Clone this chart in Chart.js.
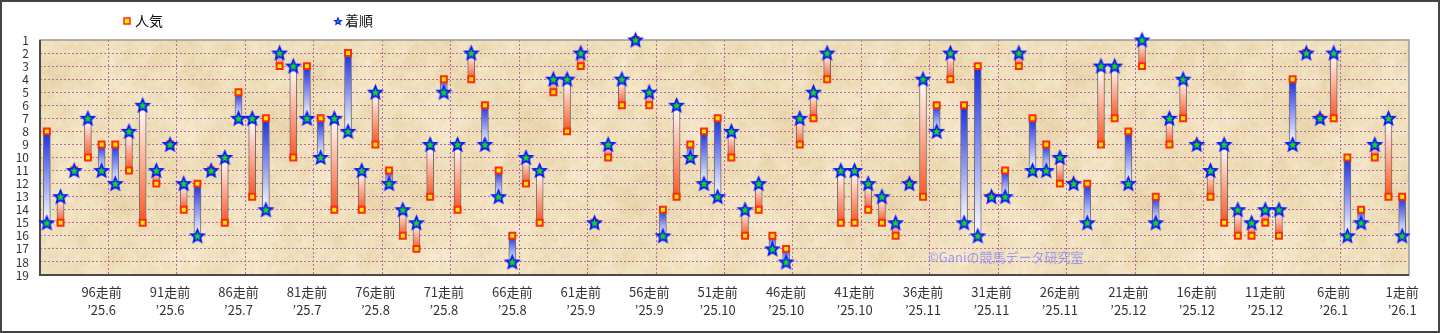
<!DOCTYPE html>
<html lang="ja">
<head>
<meta charset="utf-8">
<title>人気・着順 推移</title>
<script src="https://cdn.jsdelivr.net/npm/chart.js@4.4.1/dist/chart.umd.min.js"></script>
<style>
  html, body { margin: 0; padding: 0; background: #fff; overflow: hidden; }
  #wrap { position: relative; width: 1440px; height: 333px; }
</style>
</head>
<body>
<div id="wrap"><canvas id="chart"></canvas></div>
<script>
// 100走前 … 1走前
const raceNo = Array.from({ length: 100 }, (_, i) => 100 - i);

// 人気 (popularity rank) per race, oldest first
const ninki = [
  8, 15, 11, 10, 9, 9, 11, 15, 12, 9,
  14, 12, 11, 15, 5, 13, 7, 3, 10, 3,
  7, 14, 2, 14, 9, 11, 16, 17, 13, 4,
  14, 4, 6, 11, 16, 12, 15, 5, 8, 3,
  15, 10, 6, 1, 6, 14, 13, 9, 8, 7,
  10, 16, 14, 16, 17, 9, 7, 4, 15, 15,
  14, 15, 16, 12, 13, 6, 4, 6, 3, 13,
  11, 3, 7, 9, 12, 12, 12, 9, 7, 8,
  3, 13, 9, 7, 9, 13, 15, 16, 16, 15,
  16, 4, 2, 7, 7, 10, 14, 10, 13, 13
];

// 着順 (finishing position) per race
const chakujun = [
  15, 13, 11, 7, 11, 12, 8, 6, 11, 9,
  12, 16, 11, 10, 7, 7, 14, 2, 3, 7,
  10, 7, 8, 11, 5, 12, 14, 15, 9, 5,
  9, 2, 9, 13, 18, 10, 11, 4, 4, 2,
  15, 9, 4, 1, 5, 16, 6, 10, 12, 13,
  8, 14, 12, 17, 18, 7, 5, 2, 11, 11,
  12, 13, 15, 12, 4, 8, 2, 15, 16, 13,
  13, 2, 11, 11, 10, 12, 15, 3, 3, 12,
  1, 15, 7, 4, 9, 11, 9, 14, 15, 14,
  14, 9, 2, 7, 2, 16, 15, 9, 7, 16
];

// labelled ticks on the x axis
const tickRaces = [96, 91, 86, 81, 76, 71, 66, 61, 56, 51, 46, 41, 36, 31, 26, 21, 16, 11, 6, 1];
const tickDates = [
  '’25.6', '’25.6', '’25.7', '’25.7', '’25.8', '’25.8', '’25.8', '’25.9', '’25.9', '’25.10',
  '’25.10', '’25.10', '’25.11', '’25.11', '’25.11', '’25.12', '’25.12', '’25.12', '’26.1', '’26.1'
];

const FONT = '"Noto Sans CJK JP", "Noto Sans", sans-serif';
const GRID = '#b86c9c';

function hash(x, y, seed) {
  let n = (x * 374761393 + y * 668265263 + seed * 1442695041) | 0;
  n = Math.imul(n ^ (n >>> 13), 1274126177);
  return ((n ^ (n >>> 16)) >>> 0) / 4294967295;
}

function valueNoise(x, y, cell, seed, size) {
  const n = size / cell;
  const gx = x / cell, gy = y / cell;
  const x0 = Math.floor(gx), y0 = Math.floor(gy);
  const fx = gx - x0, fy = gy - y0;
  const sx = fx * fx * (3 - 2 * fx), sy = fy * fy * (3 - 2 * fy);
  const h = (i, j) => hash(((i % n) + n) % n, ((j % n) + n) % n, seed);
  const a = h(x0, y0), b = h(x0 + 1, y0), c = h(x0, y0 + 1), d = h(x0 + 1, y0 + 1);
  return a + (b - a) * sx + (c - a) * sy + (a - b - c + d) * sx * sy;
}

// tileable parchment texture for the plot background
function makeParchment() {
  const size = 256;
  const c = document.createElement('canvas');
  c.width = c.height = size;
  const g = c.getContext('2d');
  const img = g.createImageData(size, size);
  const light = [246, 234, 206], dark = [228, 206, 160];
  for (let y = 0; y < size; y++) {
    for (let x = 0; x < size; x++) {
      let v = 0.3 * valueNoise(x, y, 64, 1, size) +
              0.3 * valueNoise(x, y, 16, 2, size) +
              0.25 * valueNoise(x, y, 4, 3, size) +
              0.15 * valueNoise(x, y, 1, 4, size);
      v = Math.min(1, Math.max(0, (v - 0.5) * 1.3 + 0.45));
      const k = (y * size + x) * 4;
      for (let ch = 0; ch < 3; ch++) img.data[k + ch] = light[ch] + (dark[ch] - light[ch]) * v;
      img.data[k + 3] = 255;
    }
  }
  g.putImageData(img, 0, 0);
  return c;
}

function makeStar(r, lw) {
  const size = Math.ceil(2 * r + 2 * lw + 2);
  const c = document.createElement('canvas');
  c.width = c.height = size;
  const g = c.getContext('2d');
  const cx = size / 2, cy = size / 2 + 0.5;
  g.beginPath();
  for (let k = 0; k < 10; k++) {
    const rad = k % 2 ? r * 0.45 : r;
    const a = -Math.PI / 2 + k * Math.PI / 5;
    g.lineTo(cx + rad * Math.cos(a), cy + rad * Math.sin(a));
  }
  g.closePath();
  g.fillStyle = '#12dc1a';
  g.fill();
  g.lineWidth = lw;
  g.lineJoin = 'miter';
  g.strokeStyle = '#0a18ff';
  g.stroke();
  return c;
}

const starMark = makeStar(6.6, 1.8);
const starLegend = makeStar(3.5, 1.2);
const parchment = makeParchment();

// bar between 人気 and 着順: coloured at the 人気 end, white at the 着順 end
function barFill(ctx) {
  const chart = ctx.chart;
  const y = chart.scales && chart.scales.y;
  if (ctx.type !== 'data' || !y) return 'transparent';
  const i = ctx.dataIndex;
  const p0 = y.getPixelForValue(ninki[i]);
  const p1 = y.getPixelForValue(chakujun[i]);
  if (!isFinite(p0) || !isFinite(p1) || p0 === p1) return 'transparent';
  const g = chart.ctx.createLinearGradient(0, p0, 0, p1);
  g.addColorStop(0, ninki[i] < chakujun[i] ? '#1a2de4' : '#ff5522');
  g.addColorStop(1, '#ffffff');
  return g;
}

const decor = {
  id: 'decor',
  beforeDraw(chart) {
    const { ctx, chartArea: a } = chart;
    ctx.save();
    ctx.fillStyle = ctx.createPattern(parchment, 'repeat');
    ctx.fillRect(a.left, a.top, a.right - a.left, a.bottom - a.top);
    ctx.restore();
  },
  beforeDatasetsDraw(chart) {
    const { ctx, chartArea: a } = chart;
    ctx.save();
    // plot frame
    ctx.strokeStyle = '#9a9a9a';
    ctx.lineWidth = 1.5;
    ctx.strokeRect(a.left, a.top, a.right - a.left, a.bottom - a.top);
    ctx.strokeStyle = '#4a4a4a';
    ctx.lineWidth = 2;
    ctx.beginPath();
    ctx.moveTo(a.left, a.top);
    ctx.lineTo(a.left, a.bottom);
    ctx.lineTo(a.right, a.bottom);
    ctx.stroke();
    // watermark
    ctx.font = '13px ' + FONT;
    ctx.fillStyle = 'rgba(130, 130, 255, 0.75)';
    ctx.textBaseline = 'middle';
    ctx.fillText('©Ganiの競馬データ研究室', 928, 257);
    ctx.restore();
  },
  afterDraw(chart) {
    const { ctx, width, height } = chart;
    ctx.save();
    // legend
    ctx.font = '14px ' + FONT;
    ctx.textBaseline = 'middle';
    ctx.fillStyle = '#ffee00';
    ctx.fillRect(124, 18, 6, 6);
    ctx.strokeStyle = '#ff2a10';
    ctx.lineWidth = 1.5;
    ctx.strokeRect(124, 18, 6, 6);
    ctx.fillStyle = '#111';
    ctx.fillText('人気', 135, 21);
    ctx.drawImage(starLegend, 338 - starLegend.width / 2, 21 - starLegend.height / 2);
    ctx.fillText('着順', 345, 21);
    // outer frame
    ctx.strokeStyle = '#444';
    ctx.lineWidth = 2;
    ctx.strokeRect(1, 1, width - 2, height - 2);
    ctx.restore();
  }
};

new Chart(document.getElementById('chart'), {
  type: 'bar',
  data: {
    labels: raceNo.map((n) => n + '走前'),
    datasets: [
      {
        type: 'line',
        label: '着順',
        data: chakujun,
        showLine: false,
        pointStyle: starMark,
        pointRadius: 7,
        clip: false,
        order: 0,
      },
      {
        type: 'line',
        label: '人気',
        data: ninki,
        showLine: false,
        pointStyle: 'rect',
        pointRadius: 4.2,
        pointBackgroundColor: '#ffee00',
        pointBorderColor: '#ff2a10',
        pointBorderWidth: 2,
        clip: false,
        order: 1,
      },
      {
        label: '人気-着順',
        data: ninki.map((v, i) => [v, chakujun[i]]),
        backgroundColor: barFill,
        borderColor: '#6f6f6f',
        borderWidth: { left: 1, right: 1, top: 0, bottom: 0 },
        borderSkipped: false,
        barThickness: 7,
        order: 2,
      },
    ],
  },
  options: {
    responsive: true,
    maintainAspectRatio: false,
    animation: false,
    events: [],
    layout: { padding: { top: 40, right: 31, bottom: 0, left: 0 } },
    plugins: {
      legend: { display: false },
      tooltip: { enabled: false },
    },
    scales: {
      x: {
        afterFit: (s) => { s.height = 58; },
        grid: {
          offset: true,
          drawTicks: false,
          color: (c) => (c.index % 5 === 0 && c.index > 0 && c.index < 100 ? GRID : 'transparent'),
        },
        border: { display: false, dash: [2, 2] },
        ticks: {
          autoSkip: false,
          maxRotation: 0,
          padding: 8,
          color: '#333',
          font: { size: 13, family: FONT, lineHeight: 1.4 },
          callback: (v, i) => {
            const k = tickRaces.indexOf(raceNo[i]);
            return k < 0 ? '' : [tickRaces[k] + '走前', tickDates[k]];
          },
        },
      },
      y: {
        reverse: true,
        min: 1,
        max: 19,
        afterFit: (s) => { s.width = 40; },
        grid: {
          drawTicks: false,
          color: (c) => (c.tick && (c.tick.value === 1 || c.tick.value === 19) ? 'transparent' : GRID),
        },
        border: { display: false, dash: [2, 2] },
        ticks: {
          autoSkip: false,
          stepSize: 1,
          padding: 11,
          color: '#333',
          font: { size: 12, family: FONT },
        },
      },
    },
  },
  plugins: [decor],
});
</script>
</body>
</html>
